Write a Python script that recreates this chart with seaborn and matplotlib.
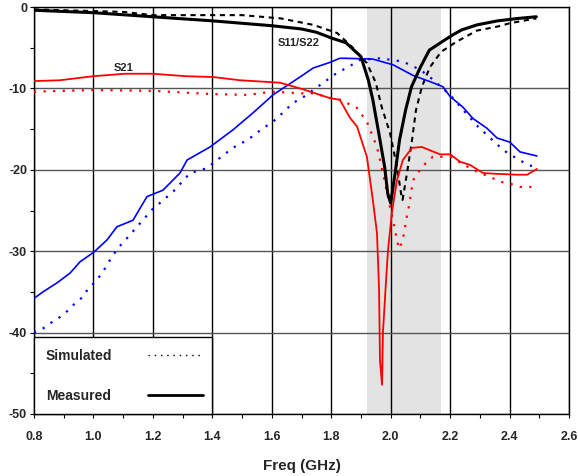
import numpy as np
import pandas as pd
import matplotlib
matplotlib.use("Agg")
import matplotlib.pyplot as plt
from matplotlib.lines import Line2D
import seaborn as sns

# ---------------- data ----------------
s11_meas_f = [0.80, 1.00, 1.20, 1.40, 1.60, 1.70, 1.75, 1.80, 1.85, 1.90, 1.925, 1.94, 1.96, 1.98, 1.99,
              2.00, 2.015, 2.03, 2.05, 2.07, 2.10, 2.13, 2.18, 2.21, 2.24, 2.29, 2.36, 2.43, 2.49]
s11_meas_db = [-0.4, -0.7, -1.2, -1.7, -2.3, -2.7, -3.1, -3.8, -4.4, -6.1, -9.0, -11.4, -15.5, -19.7, -22.9,
               -24.1, -20.4, -16.3, -12.7, -9.8, -7.4, -5.3, -4.1, -3.4, -2.8, -2.2, -1.7, -1.4, -1.2]

s11_sim_f = [0.80, 1.10, 1.20, 1.50, 1.63, 1.74, 1.82, 1.87, 1.92, 1.95, 1.97, 1.998, 2.021, 2.035, 2.04,
             2.055, 2.072, 2.085, 2.105, 2.132, 2.17, 2.22, 2.29, 2.36, 2.40, 2.49]
s11_sim_db = [-0.3, -0.6, -1.0, -1.0, -1.4, -2.2, -3.2, -4.9, -6.9, -9.3, -12.3, -15.5, -19.6, -22.9, -23.7,
              -20.4, -16.3, -12.7, -9.8, -7.4, -5.5, -4.3, -2.9, -2.4, -2.0, -1.4]

s21_meas_f = [0.80, 0.887, 1.00, 1.106, 1.20, 1.308, 1.402, 1.493, 1.628, 1.695, 1.729, 1.796, 1.829, 1.863,
              1.887, 1.920, 1.940, 1.954, 1.961, 1.964, 1.971, 1.974, 1.984, 1.991, 2.004, 2.021, 2.041,
              2.072, 2.105, 2.132, 2.166, 2.20, 2.233, 2.267, 2.311, 2.358, 2.425, 2.459, 2.492]
s21_meas_db = [-9.1, -9.0, -8.5, -8.2, -8.2, -8.5, -8.6, -9.0, -9.3, -10.0, -10.4, -11.2, -11.4, -13.6,
               -14.7, -18.4, -23.7, -27.8, -34.8, -43.4, -46.4, -40.0, -33.9, -29.9, -25.3, -21.3, -18.8,
               -17.3, -17.2, -17.6, -18.1, -18.1, -19.0, -19.4, -20.4, -20.5, -20.6, -20.6, -19.9]

s21_sim_f = [0.80, 1.00, 1.20, 1.40, 1.52, 1.60, 1.70, 1.74, 1.80, 1.83, 1.887, 1.92, 1.954, 1.974, 1.998,
             2.008, 2.021, 2.028, 2.038, 2.045, 2.055, 2.062, 2.075, 2.099, 2.122, 2.142, 2.20, 2.277,
             2.341, 2.374, 2.401, 2.435, 2.492]
s21_sim_db = [-10.4, -10.2, -10.3, -10.7, -10.8, -10.4, -10.6, -10.6, -11.2, -11.4, -12.4, -14.1, -17.2,
              -20.4, -24.6, -26.2, -28.6, -29.7, -28.9, -27.8, -25.6, -24.4, -21.3, -20.0, -19.0, -18.4,
              -18.4, -20.0, -21.0, -21.5, -21.7, -22.1, -22.1]

blue_meas_f = [0.80, 0.83, 0.877, 0.921, 0.955, 1.002, 1.046, 1.079, 1.133, 1.180, 1.20, 1.234, 1.291,
               1.315, 1.392, 1.469, 1.537, 1.604, 1.695, 1.739, 1.796, 1.829, 1.846, 1.94, 2.008, 2.075,
               2.142, 2.176, 2.20, 2.243, 2.277, 2.324, 2.358, 2.401, 2.435, 2.492]
blue_meas_db = [-35.8, -35.0, -33.9, -32.7, -31.3, -30.1, -28.6, -27.0, -26.2, -23.3, -23.0, -22.5, -20.4,
                -18.8, -17.2, -15.1, -13.0, -10.8, -8.6, -7.5, -6.8, -6.3, -6.3, -6.4, -7.1, -8.4,
                -9.3, -9.8, -11.0, -12.3, -13.7, -14.9, -16.1, -16.6, -17.8, -18.3]

blue_sim_f = [0.80, 0.83, 0.861, 0.887, 0.914, 0.938, 0.965, 0.982, 1.005, 1.029, 1.062, 1.083, 1.113,
              1.197, 1.268, 1.325, 1.382, 1.416, 1.469, 1.520, 1.570, 1.604, 1.628, 1.671, 1.705, 1.762,
              1.819, 1.856, 1.897, 1.964, 2.041, 2.099, 2.132, 2.20, 2.25, 2.294, 2.341, 2.368, 2.395,
              2.425, 2.452, 2.492]
blue_sim_db = [-40.0, -39.5, -38.7, -38.1, -37.3, -36.4, -35.6, -34.6, -33.8, -32.7, -30.7, -29.6, -28.4,
               -24.9, -22.7, -20.4, -19.8, -18.8, -17.3, -16.3, -14.9, -14.1, -13.3, -11.8, -11.1, -9.6,
               -8.1, -7.4, -6.5, -6.3, -6.7, -7.7, -8.6, -10.8, -12.9, -14.7, -16.3, -17.2, -18.0,
               -18.6, -19.2, -19.8]

band = (1.92, 2.17)
x_ticks = [0.8, 1.0, 1.2, 1.4, 1.6, 1.8, 2.0, 2.2, 2.4, 2.6]
y_ticks = [0, -10, -20, -30, -40, -50]
legend_labels = ["Simulated", "Measured"]
annot_s21 = ("S21", 1.10, -7.5)
annot_s11 = ("S11/S22", 1.69, -4.4)

# ---------------- style ----------------
sns.set_theme(style="white")
plt.rcParams["font.family"] = ["Liberation Sans", "DejaVu Sans"]
plt.rcParams["axes.unicode_minus"] = False

fig = plt.figure(figsize=(5.78, 4.76), dpi=100)
ax = fig.add_axes([34 / 578, 62 / 476, 535 / 578, 407 / 476])

ax.axvspan(band[0], band[1], color="#e3e3e3", zorder=0, lw=0)

RED = "#ff0000"
BLUE = "#0000ff"
dot = (0, (1, 3.3))
dash = (0, (2.5, 2.2))

def draw(f, db, color, ls, lw, z=3):
    df = pd.DataFrame({"f": f, "db": db})
    sns.lineplot(data=df, x="f", y="db", ax=ax, color=color, linestyle=ls, lw=lw,
                 estimator=None, sort=False, zorder=z)

draw(blue_sim_f, blue_sim_db, BLUE, dot, 1.6)
draw(s21_sim_f, s21_sim_db, RED, dot, 1.6)
draw(s11_sim_f, s11_sim_db, "black", dash, 1.5)
draw(blue_meas_f, blue_meas_db, BLUE, "-", 1.2)
draw(s21_meas_f, s21_meas_db, RED, "-", 1.3)
draw(s11_meas_f, s11_meas_db, "black", "-", 2.2, z=4)

ax.set_xlim(0.8, 2.6)
ax.set_ylim(-50, 0)
ax.set_xticks(x_ticks)
ax.set_xticklabels([f"{t:.1f}" for t in x_ticks], fontweight="bold", fontsize=9)
ax.set_yticks(y_ticks)
ax.set_yticklabels([str(t) for t in y_ticks], fontweight="bold", fontsize=9)
ax.set_xticks(np.arange(0.9, 2.6, 0.2), minor=True)
ax.set_yticks(np.arange(-45, 0, 10), minor=True)
ax.tick_params(axis="both", which="both", direction="out", length=3, width=0.8,
               color="black", bottom=True, left=True)
ax.tick_params(axis="x", which="major", pad=9.5)
ax.tick_params(axis="y", which="major", pad=2)

ax.set_axisbelow(True)
ax.grid(True, which="major", axis="x", color="black", lw=1.0, zorder=1)
ax.grid(True, which="major", axis="y", color="#555555", lw=1.0, zorder=1)
for s in ax.spines.values():
    s.set_color("black")
    s.set_linewidth(1.0)

ax.set_xlabel("Freq (GHz)", fontweight="bold", fontsize=11, labelpad=11)
ax.set_ylabel("")

ax.text(annot_s21[1], annot_s21[2], annot_s21[0], fontweight="bold", fontsize=8,
        ha="center", va="center", zorder=5)
ax.text(annot_s11[1], annot_s11[2], annot_s11[0], fontweight="bold", fontsize=8,
        ha="center", va="center", zorder=5)

handles = [Line2D([], [], color="black", linestyle=(0, (1, 3.5)), lw=1.0),
           Line2D([], [], color="black", linestyle="-", lw=2.0)]
leg = ax.legend(handles, legend_labels, loc="lower left", bbox_to_anchor=(0, 0, 1 / 3, 0.2),
                mode="expand", borderaxespad=0, markerfirst=False, fancybox=False,
                framealpha=1, edgecolor="black", handlelength=4.0, handletextpad=2.6,
                labelspacing=1.9, borderpad=0.8,
                prop={"weight": "bold", "size": 10})
leg.get_frame().set_linewidth(1.0)
leg.set_zorder(6)

fig.savefig("out.png", dpi=100)
